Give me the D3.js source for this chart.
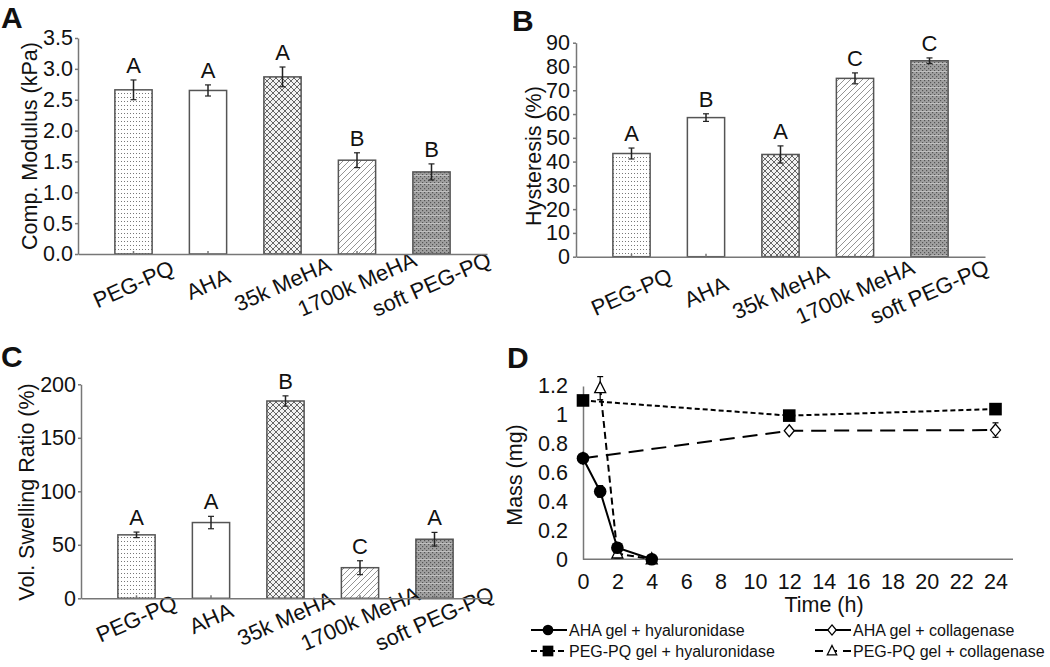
<!DOCTYPE html>
<html><head><meta charset="utf-8">
<script src="https://cdn.jsdelivr.net/npm/d3@7"></script>
<style>
body{margin:0;background:#fff;}
text{font-family:"Liberation Sans",Arial,sans-serif;fill:#111;}
</style></head>
<body>
<script>
// ---------- DATA ----------
const categories = ["PEG-PQ","AHA","35k MeHA","1700k MeHA","soft PEG-PQ"];

const modulus = [2.66, 2.65, 2.87, 1.52, 1.33];
const modulusErr = [0.16, 0.09, 0.16, 0.12, 0.13];
const modulusGroups = ["A","A","A","B","B"];
const modulusTicks = [0,0.5,1,1.5,2,2.5,3,3.5];

const hysteresis = [43.4, 58.5, 43.0, 75.0, 82.4];
const hysteresisErr = [2.3, 1.6, 3.6, 2.3, 1.2];
const hysteresisGroups = ["A","B","A","C","C"];
const hysteresisTicks = [0,10,20,30,40,50,60,70,80,90];

const swelling = [59.3, 70.8, 184.4, 28.6, 55.2];
const swellingErr = [2.6, 5.8, 4.8, 6.5, 6.4];
const swellingGroups = ["A","A","B","C","A"];
const swellingTicks = [0,50,100,150,200];

const timeTicks = [0,2,4,6,8,10,12,14,16,18,20,22,24];
const massTicks = [0,0.2,0.4,0.6,0.8,1.0,1.2];

const ahaHyalTime = [0,1,2,4];
const ahaHyalMass = [0.70,0.47,0.08,0.0];
const ahaHyalErr  = [0.01,0.04,0.03,0.01];

const ahaCollTime = [0,12,24];
const ahaCollMass = [0.70,0.89,0.895];
const ahaCollErr  = [0.01,0.01,0.05];

const pegHyalTime = [0,12,24];
const pegHyalMass = [1.10,0.995,1.04];
const pegHyalErr  = [0.01,0.01,0.02];

const pegCollTime = [1,2,4];
const pegCollMass = [1.185,0.04,0.0];
const pegCollErr  = [0.08,0.03,0.0];

const legendLabels = ["AHA gel + hyaluronidase","AHA gel + collagenase","PEG-PQ gel + hyaluronidase","PEG-PQ gel + collagenase"];

// ---------- SVG ----------
const svg = d3.select("body").append("svg").attr("width",1050).attr("height",667);
const defs = svg.append("defs");
const AXC = "#777";
const FONT = "Liberation Sans, Arial, sans-serif";

// patterns
const pDots = defs.append("pattern").attr("id","pDots").attr("patternUnits","userSpaceOnUse").attr("width",3).attr("height",4);
pDots.append("rect").attr("width",3).attr("height",4).attr("fill","#fff");
pDots.append("rect").attr("x",1).attr("y",1).attr("width",1).attr("height",1).attr("fill","#777");

const pCross = defs.append("pattern").attr("id","pCross").attr("patternUnits","userSpaceOnUse").attr("width",6).attr("height",6);
pCross.append("rect").attr("width",6).attr("height",6).attr("fill","#f2f2f2");
pCross.append("path").attr("d","M0,0L6,6M6,0L0,6M-1,5L1,7M5,-1L7,1M-1,1L1,-1M5,7L7,5").attr("stroke","#555").attr("stroke-width",0.9);

const pDiag = defs.append("pattern").attr("id","pDiag").attr("patternUnits","userSpaceOnUse").attr("width",6).attr("height",6);
pDiag.append("rect").attr("width",6).attr("height",6).attr("fill","#fff");
pDiag.append("path").attr("d","M0,6L6,0M-1,1L1,-1M5,7L7,5").attr("stroke","#888").attr("stroke-width",0.9);

const pSoft = defs.append("pattern").attr("id","pSoft").attr("patternUnits","userSpaceOnUse").attr("width",4).attr("height",8);
pSoft.append("rect").attr("width",4).attr("height",8).attr("fill","#a0a0a0");
[[0,0],[2,2],[0,4],[2,6]].forEach(([x,y])=>pSoft.append("rect").attr("x",x).attr("y",y).attr("width",1.2).attr("height",1.2).attr("fill","#555"));
pSoft.append("rect").attr("x",0).attr("y",7).attr("width",4).attr("height",0.8).attr("fill","#c8c8c8");

const fills = ["url(#pDots)","#fff","url(#pCross)","url(#pDiag)","url(#pSoft)"];

function barPanel(o){
  const g = svg.append("g");
  const x = d3.scaleBand().domain(categories).range([o.x0, o.x0+409]).paddingInner(0.5).paddingOuter(0.495);
  const y = d3.scaleLinear().domain([0,o.max]).range([o.yb,o.yt]);
  g.selectAll("rect.bar").data(o.values).join("rect")
    .attr("x",(d,i)=>x(categories[i])).attr("width",x.bandwidth())
    .attr("y",d=>y(d)).attr("height",d=>y(0)-y(d))
    .attr("fill",(d,i)=>fills[i]).attr("stroke","#555").attr("stroke-width",1.5);
  o.values.forEach((v,i)=>{
    const cx = x(categories[i])+x.bandwidth()/2;
    const e = o.errs[i];
    g.append("line").attr("x1",cx).attr("x2",cx).attr("y1",y(v-e)).attr("y2",y(v+e)).attr("stroke","#222").attr("stroke-width",1.5);
    [v-e,v+e].forEach(t=>g.append("line").attr("x1",cx-3).attr("x2",cx+3).attr("y1",y(t)).attr("y2",y(t)).attr("stroke","#222").attr("stroke-width",1.2));
    g.append("text").attr("x",cx).attr("y",y(v+e)-7).attr("text-anchor","middle").attr("font-size",22).text(o.groups[i]);
    g.append("text").attr("transform",`translate(${cx},${o.yb+o.lblOff}) rotate(-24)`).attr("dy","0.35em")
      .attr("text-anchor","middle").attr("font-size",22).text(categories[i]);
  });
  const ya = g.append("g").attr("transform",`translate(${o.x0},0)`)
    .call(d3.axisLeft(y).tickValues(o.ticks).tickFormat(o.fmt).tickSize(3).tickSizeOuter(0).tickPadding(o.pad));
  ya.selectAll("text").attr("font-size",21.5).attr("fill","#111").attr("font-family",FONT);
  ya.selectAll("line,path").attr("stroke",AXC).attr("stroke-width",1.5);
  const xa = g.append("g").attr("transform",`translate(0,${o.yb})`)
    .call(d3.axisBottom(x).tickSize(-3).tickSizeOuter(0).tickFormat(""));
  xa.selectAll("line,path").attr("stroke",AXC).attr("stroke-width",1.5);
  g.append("text").attr("transform",`translate(${o.tx},${o.ty}) rotate(-90)`).attr("text-anchor","middle").attr("font-size",21.5).text(o.title);
  g.append("text").attr("x",o.lx).attr("y",o.ly).attr("font-size",30).attr("font-weight","bold").text(o.letter);
}

barPanel({x0:78,yb:254,yt:38,max:3.5,values:modulus,errs:modulusErr,groups:modulusGroups,ticks:modulusTicks,
  fmt:d3.format(".1f"),pad:2,lblOff:30,title:"Comp. Modulus (kPa)",tx:37,ty:146,letter:"A",lx:1,ly:28});
barPanel({x0:576,yb:256.7,yt:42.7,max:90,values:hysteresis,errs:hysteresisErr,groups:hysteresisGroups,ticks:hysteresisTicks,
  fmt:d3.format("d"),pad:3,lblOff:35,title:"Hysteresis (%)",tx:541,ty:156,letter:"B",lx:512,ly:31});
barPanel({x0:81,yb:598.3,yt:384.3,max:200,values:swelling,errs:swellingErr,groups:swellingGroups,ticks:swellingTicks,
  fmt:d3.format("d"),pad:2,lblOff:20,title:"Vol. Swelling Ratio (%)",tx:34,ty:492,letter:"C",lx:1,ly:367});

// ---------- PANEL D ----------
const gd = svg.append("g");
const xD = d3.scaleLinear().domain([0,24]).range([583,995.5]);
const yD = d3.scaleLinear().domain([0,1.2]).range([559.3,386]);

const xaD = gd.append("g").attr("transform",`translate(0,${yD(0)})`)
  .call(d3.axisBottom(xD).tickValues(timeTicks).tickSize(0).tickPadding(14).tickFormat(d3.format("d")));
xaD.select("path").remove();
xaD.selectAll("text").attr("font-size",21.5).attr("fill","#111").attr("font-family",FONT);
gd.append("line").attr("x1",xD(0)).attr("x2",1013).attr("y1",yD(0)).attr("y2",yD(0)).attr("stroke",AXC).attr("stroke-width",1.5);

const yaD = gd.append("g").attr("transform",`translate(${xD(0)},0)`)
  .call(d3.axisLeft(yD).tickValues(massTicks).tickSize(0).tickPadding(15).tickFormat(d=>String(+d.toFixed(1))));
yaD.select("path").attr("stroke",AXC).attr("stroke-width",1.5);
yaD.selectAll("text").attr("font-size",21.5).attr("fill","#111").attr("font-family",FONT);

gd.append("text").attr("x",824).attr("y",612).attr("text-anchor","middle").attr("font-size",21.5).text("Time (h)");
gd.append("text").attr("transform","translate(522,475) rotate(-90)").attr("text-anchor","middle").attr("font-size",21.5).text("Mass (mg)");
gd.append("text").attr("x",507).attr("y",368).attr("font-size",30).attr("font-weight","bold").text("D");

const seriesD = [
  {t:ahaCollTime,m:ahaCollMass,e:ahaCollErr,dash:"15,8",marker:"diamond"},
  {t:pegCollTime,m:pegCollMass,e:pegCollErr,dash:"7,4",marker:"triangle"},
  {t:pegHyalTime,m:pegHyalMass,e:pegHyalErr,dash:"5,3",marker:"square"},
  {t:ahaHyalTime,m:ahaHyalMass,e:ahaHyalErr,dash:null,marker:"circle"}
];
const lineGen = d3.line().x(d=>xD(d[0])).y(d=>yD(d[1]));
seriesD.forEach(s=>{
  const pts = s.t.map((t,i)=>[t,s.m[i]]);
  const p = gd.append("path").attr("d",lineGen(pts)).attr("fill","none").attr("stroke","#000").attr("stroke-width",2);
  if(s.dash) p.attr("stroke-dasharray",s.dash);
});
function drawMarker(g,type,cx,cy,sc){
  sc = sc||1;
  if(type==="circle") g.append("circle").attr("cx",cx).attr("cy",cy).attr("r",6.3*sc).attr("fill","#000");
  else if(type==="square") g.append("rect").attr("x",cx-6.3*sc).attr("y",cy-6.3*sc).attr("width",12.6*sc).attr("height",12.6*sc).attr("fill","#000");
  else if(type==="diamond") g.append("path").attr("d",`M${cx},${cy-6*sc}L${cx+5*sc},${cy}L${cx},${cy+6*sc}L${cx-5*sc},${cy}Z`).attr("fill","#fff").attr("stroke","#000").attr("stroke-width",1.3);
  else if(type==="triangle") g.append("path").attr("d",`M${cx},${cy-6.5*sc}L${cx+5.5*sc},${cy+4.5*sc}L${cx-5.5*sc},${cy+4.5*sc}Z`).attr("fill","#fff").attr("stroke","#000").attr("stroke-width",1.3);
}
seriesD.forEach(s=>{
  s.t.forEach((t,i)=>{
    const cx = xD(t), v = s.m[i], e = s.e[i];
    if(e>0.015){
      gd.append("line").attr("x1",cx).attr("x2",cx).attr("y1",yD(v-e)).attr("y2",yD(v+e)).attr("stroke","#000").attr("stroke-width",1.2);
      [v-e,v+e].forEach(q=>gd.append("line").attr("x1",cx-3).attr("x2",cx+3).attr("y1",yD(q)).attr("y2",yD(q)).attr("stroke","#000").attr("stroke-width",1.2));
    }
    drawMarker(gd,s.marker,cx,yD(v));
  });
});

// legend
const legItems = [
  {lx:531,ly:630,dash:null,marker:"circle",label:legendLabels[0]},
  {lx:815,ly:630,dash:null,marker:"diamond",label:legendLabels[1]},
  {lx:531,ly:651,dash:"6,3",marker:"square",label:legendLabels[2]},
  {lx:815,ly:651,dash:"8,6",marker:"triangle",label:legendLabels[3]}
];
legItems.forEach(it=>{
  const l = gd.append("line").attr("x1",it.lx).attr("x2",it.lx+36).attr("y1",it.ly).attr("y2",it.ly).attr("stroke","#000").attr("stroke-width",2);
  if(it.dash) l.attr("stroke-dasharray",it.dash);
  drawMarker(gd,it.marker,it.lx+17,it.ly,0.85);
  gd.append("text").attr("x",it.lx+38).attr("y",it.ly+6).attr("font-size",16).text(it.label);
});
</script>
</body></html>
